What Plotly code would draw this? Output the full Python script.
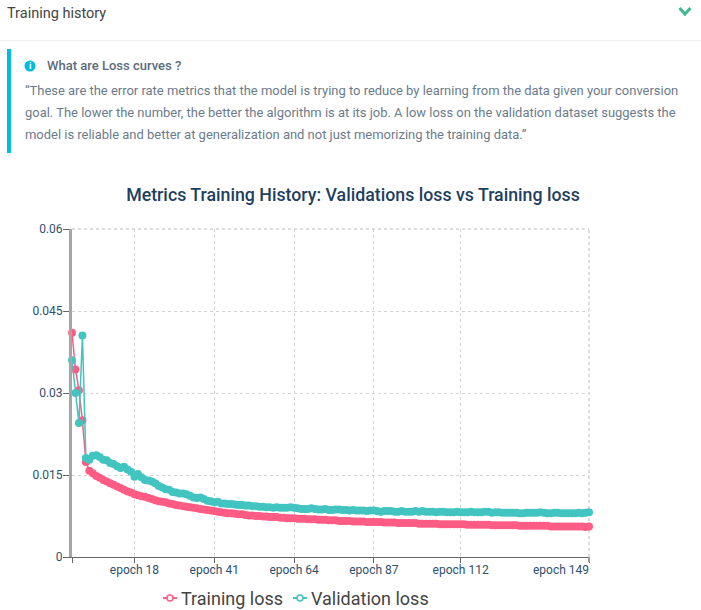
import plotly.graph_objects as go

epochs = [f"epoch {i}" for i in range(150)]
training_loss = [
    .0410, .0343, .0305, .0250, .0174, .0158, .0153, .0148, .0145, .0141,
    .0138, .0135, .0132, .0129, .0126, .0123, .0120, .0118, .0115, .0113,
    .0111, .0110, .0108, .0106, .0104, .0102, .0101, .0100, .0098, .0097,
    .0095, .0094, .0093, .0092, .0091, .0090, .0089, .0088, .0087, .0086,
    .0085, .0084, .0083, .0082, .0081, .0080, .0080, .0079, .0078, .0078,
    .0077, .0076, .0076, .0075, .0075, .0074, .0074, .0073, .0073, .0073,
    .0072, .0072, .0071, .0071, .0071, .0070, .0070, .0070, .0069, .0069,
    .0069, .0068, .0068, .0068, .0067, .0067, .0067, .0066, .0066, .0066,
    .0066, .0065, .0065, .0065, .0065, .0064, .0064, .0064, .0064, .0064,
    .0063, .0063, .0063, .0063, .0062, .0062, .0062, .0062, .0062, .0062,
    .0061, .0061, .0061, .0061, .0061, .0061, .0060, .0060, .0060, .0060,
    .0060, .0060, .0060, .0060, .0059, .0059, .0059, .0059, .0059, .0059,
    .0059, .0058, .0058, .0058, .0058, .0058, .0058, .0058, .0058, .0057,
    .0057, .0057, .0057, .0057, .0057, .0057, .0057, .0057, .0056, .0056,
    .0056, .0056, .0056, .0056, .0056, .0056, .0056, .0056, .0055, .0056,
]
validation_loss = [
    .0360, .0300, .0245, .0405, .0181, .0178, .0185, .0186, .0183, .0178,
    .0177, .0172, .0170, .0166, .0163, .0165, .0160, .0156, .0147, .0152,
    .0146, .0141, .0140, .0138, .0135, .0130, .0127, .0124, .0123, .0119,
    .0118, .0116, .0116, .0115, .0112, .0109, .0108, .0109, .0106, .0103,
    .0102, .0100, .0101, .0098, .0098, .0097, .0097, .0096, .0095, .0095,
    .0094, .0094, .0093, .0093, .0092, .0092, .0091, .0091, .0090, .0091,
    .0090, .0090, .0090, .0091, .0090, .0089, .0088, .0088, .0088, .0089,
    .0088, .0087, .0087, .0088, .0086, .0086, .0087, .0087, .0086, .0086,
    .0085, .0086, .0085, .0085, .0085, .0084, .0085, .0085, .0084, .0083,
    .0084, .0084, .0084, .0083, .0083, .0084, .0083, .0083, .0083, .0084,
    .0083, .0084, .0083, .0083, .0083, .0082, .0083, .0083, .0082, .0082,
    .0082, .0083, .0082, .0082, .0082, .0083, .0082, .0082, .0082, .0083,
    .0083, .0081, .0082, .0082, .0081, .0081, .0081, .0081, .0081, .0080,
    .0080, .0081, .0081, .0081, .0081, .0082, .0081, .0080, .0080, .0081,
    .0081, .0080, .0080, .0080, .0080, .0080, .0081, .0080, .0081, .0082,
]
series_names = ["Training loss", "Validation loss"]
x_tick_epochs = ["epoch 0", "epoch 18", "epoch 41", "epoch 64", "epoch 87", "epoch 112", "epoch 149"]
x_tick_labels = ["", "epoch 18", "epoch 41", "epoch 64", "epoch 87", "epoch 112", ""]
y_tick_values = [0, 0.015, 0.03, 0.045, 0.06]
y_tick_labels = ["0", "0.015", "0.03", "0.045", "0.06"]

W, H = 701, 610
LEFT, RIGHT, TOP, BOTTOM = 72, 589, 229, 557
FONT = "Roboto"
PINK, TEAL = "#ff5c85", "#42c4c0"
NAVY = "#2f4f6f"
GRID = "#d4d4d4"


def px(x):
    return (x - LEFT) / (RIGHT - LEFT)


def py(y):
    return (BOTTOM - y) / (BOTTOM - TOP)


def note(x, y, text, size, color, anchor="left", weight=None):
    return dict(
        x=px(x), y=py(y), xref="paper", yref="paper", text=text, showarrow=False,
        xanchor=anchor, yanchor="middle", align="left",
        font=dict(family=FONT, size=size, color=color, weight=weight),
        borderpad=0, borderwidth=0,
    )


fig = go.Figure()
for name, values, color in zip(series_names, (training_loss, validation_loss), (PINK, TEAL)):
    fig.add_trace(go.Scatter(
        x=epochs, y=values, name=name, mode="lines+markers", cliponaxis=False,
        line=dict(color=color, width=1.5),
        marker=dict(color=color, size=8, line=dict(width=0)),
        showlegend=False,
    ))

annotations = [
    note(7, 13, "Training history", 14.5, "#444444"),
    note(47, 66, "What are Loss curves ?", 13, "#5c6b7a", weight=500),
    note(25, 90, "“These are the error rate metrics that the model is trying to reduce by learning from the data given your conversion", 12.96, "#6b7b8c"),
    note(25, 112, "goal. The lower the number, the better the algorithm is at its job. A low loss on the validation dataset suggests the", 12.96, "#6b7b8c"),
    note(25, 134, "model is reliable and better at generalization and not just memorizing the training data.”", 12.96, "#6b7b8c"),
    note(30, 66, "i", 9.5, "white", anchor="center", weight=700),
    note(589, 570, "epoch 149", 12, NAVY, anchor="right"),
    note(181, 598, series_names[0], 18, "#444444"),
    note(311, 598, series_names[1], 18, "#444444"),
]


def paper_rect(x0, y0, x1, y1, color):
    return dict(type="rect", xref="paper", yref="paper", x0=px(x0), x1=px(x1), y0=py(y0), y1=py(y1),
                fillcolor=color, line=dict(width=0), layer="above")


def legend_key(cx, color):
    return [
        dict(type="line", xref="paper", yref="paper", x0=px(cx - 7), x1=px(cx + 7), y0=py(598), y1=py(598),
             line=dict(color=color, width=2), layer="above"),
        dict(type="circle", xref="paper", yref="paper", x0=px(cx - 3), x1=px(cx + 3), y0=py(595), y1=py(601),
             fillcolor="white", line=dict(color=color, width=1.5), layer="above"),
    ]


shapes = [
    paper_rect(0, 40, 701, 41, "#eeeeee"),
    paper_rect(7, 49, 11, 153, "#00bbdd"),
    dict(type="circle", xref="paper", yref="paper", x0=px(24.5), x1=px(35.5), y0=py(60.5), y1=py(71.5),
         fillcolor="#00bbdd", line=dict(width=0), layer="below"),
    dict(type="path", xref="paper", yref="paper", layer="above", line=dict(color="#3db88f", width=3),
         path=f"M {px(679.5)} {py(8)} L {px(685)} {py(14)} L {px(690.5)} {py(8)}"),
    dict(type="line", xref="paper", yref="paper", x0=px(589), x1=px(589), y0=py(557), y1=py(562),
         line=dict(color="#999999", width=2), layer="above"),
    dict(type="line", xref="paper", yref="paper", x0=1, x1=1, y0=0, y1=1,
         line=dict(color="#dddddd", width=2, dash="3px,3px"), layer="below"),
    dict(type="line", xref="paper", yref="paper", x0=0, x1=1, y0=1, y1=1,
         line=dict(color="#dddddd", width=2, dash="3px,3px"), layer="below"),
] + legend_key(170, PINK) + legend_key(300, TEAL)

fig.update_layout(
    width=W, height=H, autosize=False,
    paper_bgcolor="white", plot_bgcolor="white",
    margin=dict(l=LEFT, r=W - RIGHT, t=TOP, b=H - BOTTOM, pad=0, autoexpand=False),
    font=dict(family=FONT, color=NAVY),
    showlegend=False,
    title=dict(
        text="Metrics Training History: Validations loss vs Training loss",
        font=dict(family=FONT, size=17.75, color="#1f3f5f", weight=500),
        x=353 / W, xanchor="center", y=1 - 195 / H, yanchor="middle",
    ),
    xaxis=dict(
        type="category", range=[0, 149], categoryorder="array", categoryarray=epochs,
        tickmode="array", tickvals=x_tick_epochs, ticktext=x_tick_labels,
        ticks="outside", ticklen=5, tickwidth=1, tickcolor="#666666", ticklabelstandoff=-3,
        tickfont=dict(family=FONT, size=12, color=NAVY),
        showline=True, linecolor="#666666", linewidth=1,
        showgrid=True, gridcolor=GRID, griddash="3px,3px", gridwidth=1,
        zeroline=False,
    ),
    yaxis=dict(
        range=[0, 0.06], tickmode="array", tickvals=y_tick_values, ticktext=y_tick_labels,
        ticks="outside", ticklen=6, tickwidth=1, tickcolor="#666666", ticklabelstandoff=-2,
        tickfont=dict(family=FONT, size=12, color=NAVY),
        showline=True, linecolor="#a6a6a6", linewidth=3,
        showgrid=True, gridcolor=GRID, griddash="3px,3px", gridwidth=1,
        zeroline=False,
    ),
    annotations=annotations,
    shapes=shapes,
)

fig.write_html("out.html", config=dict(displayModeBar=False),
               post_script="document.body.style.margin='0';")
